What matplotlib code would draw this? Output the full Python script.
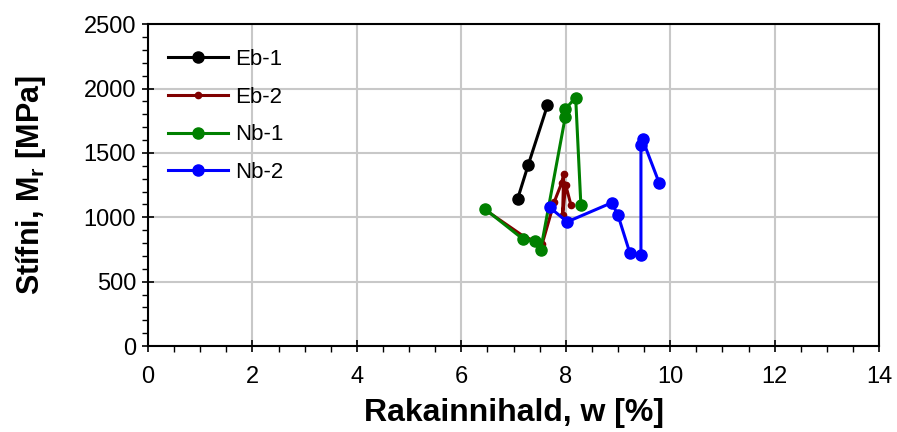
import matplotlib
matplotlib.use("Agg")
import matplotlib.pyplot as plt
from matplotlib.ticker import MultipleLocator

plt.rcParams['font.family'] = ['Liberation Sans', 'DejaVu Sans']

# rakainnihald (%) og stífni (MPa) fyrir hvert sýni
eb1_w = [7.08, 7.28, 7.65]
eb1_m = [1145, 1405, 1870]

eb2_w = [6.45, 7.2, 7.42, 7.55, 7.78, 7.92, 7.96, 7.94, 8.0, 8.1]
eb2_m = [1060, 850, 815, 795, 1120, 1265, 1335, 1020, 1250, 1095]

nb1_w = [6.45, 7.19, 7.41, 7.52, 7.99, 7.99, 8.19, 8.29]
nb1_m = [1065, 828, 814, 748, 1778, 1840, 1930, 1092]

nb2_w = [7.69, 8.03, 8.88, 9.0, 9.23, 9.44, 9.44, 9.47, 9.79]
nb2_m = [1077, 965, 1113, 1017, 720, 707, 1560, 1605, 1266]

fig = plt.figure(figsize=(8.97, 4.32), dpi=100)
ax = fig.add_axes([0.165, 0.199, 0.815, 0.745])

ax.plot(eb1_w, eb1_m, '-o', color='black', lw=2.2, ms=8, label='Eb-1')
ax.plot(eb2_w, eb2_m, '-o', color='#800000', lw=2.2, ms=4.5, label='Eb-2')
ax.plot(nb1_w, nb1_m, '-o', color='#008000', lw=2.2, ms=8, label='Nb-1')
ax.plot(nb2_w, nb2_m, '-o', color='#0000ff', lw=2.2, ms=8, label='Nb-2')

ax.set_xlim(0, 14)
ax.set_ylim(0, 2500)
ax.xaxis.set_major_locator(MultipleLocator(2))
ax.xaxis.set_minor_locator(MultipleLocator(0.5))
ax.yaxis.set_major_locator(MultipleLocator(500))
ax.yaxis.set_minor_locator(MultipleLocator(100))
ax.grid(True, which='major', color='#c8c8c8', lw=1.5)
ax.set_axisbelow(True)
ax.tick_params(which='major', direction='inout', length=9, width=1.2, labelsize=17)
ax.tick_params(axis='x', which='major', pad=10)
ax.tick_params(axis='y', which='major', pad=4)
ax.tick_params(which='minor', direction='out', length=4, width=1)
for s in ax.spines.values():
    s.set_linewidth(1.5)

ax.set_xlabel('Rakainnihald, w [%]', fontsize=23, fontweight='bold', labelpad=7)
ax.set_ylabel(r'Stífni, M$_\mathregular{r}$ [MPa]', fontsize=22, fontweight='bold', labelpad=26)

ax.legend(loc='upper left', bbox_to_anchor=(0.0, 0.985), frameon=False, fontsize=16,
          handlelength=2.7, handletextpad=0.3, labelspacing=0.75)

fig.savefig('out.png', dpi=100)
